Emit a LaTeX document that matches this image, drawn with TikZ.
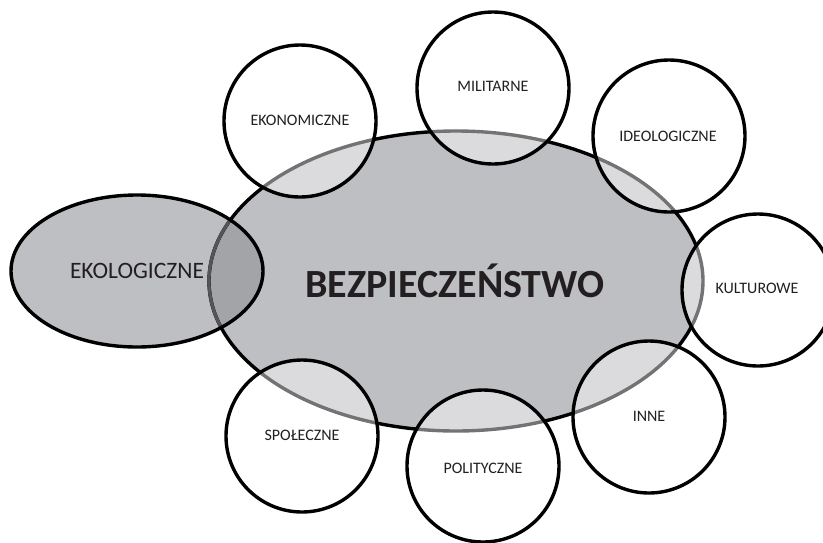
\documentclass[tikz,border=0pt]{standalone}
\usepackage{fontspec}
\setmainfont{Carlito}
\definecolor{ellfill}{RGB}{190,191,194}
\definecolor{ovlfill}{RGB}{163,164,167}
\definecolor{innerline}{RGB}{85,85,88}
\definecolor{txt}{RGB}{35,31,32}
\begin{document}
\begin{tikzpicture}[x=1pt,y=-1pt,
  outline/.style={draw=black,line width=3.4pt},
  ring/.style={draw=black,line width=3.4pt},
  veil/.style={fill=white,fill opacity=0.45},
  smalllabel/.style={font=\fontsize{16}{18}\selectfont,text=txt},
  biglabel/.style={font=\fontsize{40}{44}\selectfont\bfseries,text=txt},
  ekolabel/.style={font=\fontsize{23.5}{26}\selectfont,text=txt}]
\useasboundingbox (0,0) rectangle (823,542);
\clip (0,0) rectangle (823,542);
% base fills
\fill[ellfill] (137,271) ellipse [x radius=126,y radius=76];
\fill[ellfill] (456,281) ellipse [x radius=247,y radius=150];
\begin{scope}
  \clip (137,271) ellipse [x radius=126,y radius=76];
  \fill[ovlfill] (456,281) ellipse [x radius=247,y radius=150];
\end{scope}
\draw[outline] (456,281) ellipse [x radius=247,y radius=150];
% translucent circles
\foreach \p in {(300,121),(493,88),(669,136),(758,290),(649,417),(483,466),(302,436)}
  \fill[veil] \p circle [radius=76];
\begin{scope}
  \clip (137,271) ellipse [x radius=126,y radius=76];
  \draw[innerline,line width=3.2pt] (456,281) ellipse [x radius=247,y radius=150];
\end{scope}
\draw[outline] (137,271) ellipse [x radius=126,y radius=76];
\foreach \p in {(300,121),(493,88),(669,136),(758,290),(649,417),(483,466),(302,436)}
  \draw[ring] \p circle [radius=76];
% labels
\node[biglabel] (bez) at (455,281) {BEZPIECZEŃSTWO};
\node[ekolabel] (eko) at (137,271) {EKOLOGICZNE};
\node[smalllabel] (ekon) at (300,120) {EKONOMICZNE};
\node[smalllabel] (mil) at (493,86) {MILITARNE};
\node[smalllabel] (ideo) at (668,136) {IDEOLOGICZNE};
\node[smalllabel] (kult) at (757,288) {KULTUROWE};
\node[smalllabel] (inne) at (649,416) {INNE};
\node[smalllabel] (pol) at (483,468) {POLITYCZNE};
\node[smalllabel] (spol) at (302,435) {SPOŁECZNE};
\end{tikzpicture}
\end{document}
